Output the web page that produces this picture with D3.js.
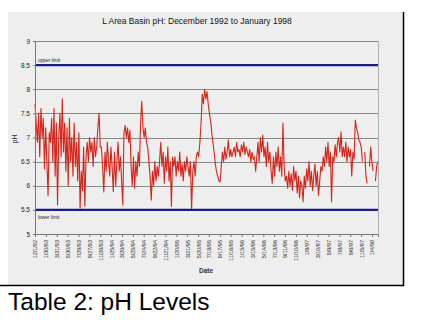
<!DOCTYPE html>
<html>
<head>
<meta charset="utf-8">
<script src="https://cdn.jsdelivr.net/npm/d3@7"></script>
<style>
  html, body { margin: 0; padding: 0; background: #ffffff; }
  svg { display: block; font-family: "Liberation Sans", Arial, sans-serif; }
</style>
</head>
<body>
<svg id="chart" width="421" height="321"></svg>
<script>
// ---- data ----
const chartTitle = "L Area Basin pH: December 1992 to January 1998";
const caption = "Table 2: pH Levels";
const firstSample = "12/1/92";
const lastSample = "2/5/98";
const phValues = [
  7.7,7.3,6.9,7.5,6.6,7.6,7.0,7.4,6.35,7.2,6.5,5.8,7.1,
  6.9,7.4,6.5,7.6,6.2,7.3,5.6,7.0,7.5,6.6,
  7.8,6.7,7.3,6.3,7.2,6.0,7.4,6.5,7.0,6.2,7.3,6.4,6.9,6.1,7.1,5.54,
  6.3,5.9,6.8,5.58,6.6,6.9,6.5,7.0,6.7,6.9,6.4,7.0,6.6,6.8,7.2,7.5,6.8,
  6.8,6.4,5.87,6.7,6.3,6.9,6.5,6.2,6.8,6.4,5.88,6.7,6.0,6.5,6.9,6.3,6.6,6.1,5.6,
  7.1,7.25,7.0,7.2,6.9,7.15,
  6.4,6.0,6.6,5.95,6.5,6.2,6.7,6.4,
  7.3,7.75,7.2,7.0,7.2,6.9,6.8,6.5,
  6.2,5.7,6.3,6.0,6.5,6.1,6.4,6.2,
  6.5,6.9,6.4,6.7,6.05,6.6,6.3,6.8,6.1,6.5,5.57,6.6,
  6.4,6.6,6.2,6.5,6.3,6.7,6.2,6.45,6.1,6.5,6.3,6.6,
  6.4,6.2,6.5,5.5,6.3,6.5,6.2,6.6,
  6.7,6.6,6.9,7.3,
  7.9,7.7,8.0,7.8,7.95,7.7,
  7.5,7.35,7.1,6.9,6.7,6.45,6.3,6.2,6.1,6.08,
  6.4,6.7,6.5,6.8,6.55,6.7,6.95,6.6,6.75,6.6,
  6.7,6.8,6.6,6.9,6.7,6.75,6.6,6.85,6.7,6.9,6.65,6.8,6.7,6.6,6.75,6.5,6.7,6.55,6.6,6.3,
  6.6,6.9,6.5,7.0,6.7,7.05,6.6,6.8,6.4,6.9,6.5,6.7,
  6.3,6.05,6.6,6.2,6.7,6.4,6.8,6.3,6.6,6.2,7.3,6.4,6.1,
  6.2,5.95,6.3,6.0,6.25,5.9,6.4,6.1,6.3,5.85,6.2,5.75,6.1,
  6.0,5.67,6.2,5.95,6.35,6.1,6.5,6.0,6.3,5.9,6.2,6.45,6.0,6.3,5.8,6.1,6.4,
  6.3,6.6,6.4,6.8,6.5,6.9,6.4,6.7,5.67,6.6,6.5,6.85,6.6,6.9,7.0,6.7,7.12,6.6,6.8,
  6.6,6.9,6.5,6.8,6.6,6.75,6.2,6.7,6.55,7.36,7.2,7.1,6.95,
  6.9,6.8,6.5,null,6.7,6.2,6.05,null,6.4,6.8,6.5,6.3,null,6.1,6.4,6.5
];
const xTickLabels = ["12/1/92","1/30/93","3/31/93","5/30/93","7/29/93","9/27/93","11/26/93",
  "1/25/94","3/26/94","5/25/94","7/24/94","9/22/94","11/21/94","1/20/95","3/21/95","5/20/95",
  "7/19/95","9/17/95","11/16/95","1/15/96","3/15/96","5/14/96","7/13/96","9/11/96","11/10/96",
  "1/9/97","3/10/97","5/9/97","7/8/97","9/6/97","11/5/97","1/4/98"];
const yTickValues = [5, 5.5, 6, 6.5, 7, 7.5, 8, 8.5, 9];
const gridValues = [6, 6.5, 7, 7.5, 8, 9];
const limits = [{ label: "upper limit", value: 8.5 }, { label: "lower limit", value: 5.5 }];
const xDomainLabels = ["12/1/92", "2/6/98"];

// ---- setup ----
const parse = d3.timeParse("%m/%d/%y");
const svg = d3.select("#chart");
const plot = { left: 35, right: 378, top: 41, bottom: 234 };

// paper
svg.append("rect").attr("x", 8).attr("y", 12).attr("width", 396).attr("height", 273).attr("fill", "#eeeeee");
svg.append("line").attr("x1", 403.5).attr("x2", 403.5).attr("y1", 12).attr("y2", 285.5)
  .attr("stroke", "#000").attr("stroke-width", 1.5);
svg.append("line").attr("x1", 0).attr("x2", 404.2).attr("y1", 285.5).attr("y2", 285.5)
  .attr("stroke", "#000").attr("stroke-width", 1.5);

const x = d3.scaleTime().domain(xDomainLabels.map(parse)).range([plot.left, plot.right]);
const y = d3.scaleLinear().domain([5, 9]).range([plot.bottom, plot.top]);

// grid
svg.append("g").selectAll("line").data(gridValues).join("line")
  .attr("x1", plot.left).attr("x2", plot.right)
  .attr("y1", d => Math.round(y(d)) + 0.5).attr("y2", d => Math.round(y(d)) + 0.5)
  .attr("stroke", "#8a8a8a").attr("stroke-width", 1);
svg.append("line").attr("x1", plot.right + 0.5).attr("x2", plot.right + 0.5)
  .attr("y1", plot.top).attr("y2", plot.bottom).attr("stroke", "#b0b0b0");

// title
svg.append("text").attr("x", 197).attr("y", 24).attr("text-anchor", "middle")
  .attr("font-size", 8.5).attr("fill", "#111").text(chartTitle);

// data line
const t0 = parse(firstSample).getTime(), t1 = parse(lastSample).getTime();
const series = phValues.map((v, i) => ({ date: new Date(t0 + (t1 - t0) * i / (phValues.length - 1)), v }));
const line = d3.line().defined(d => d.v !== null).x(d => x(d.date)).y(d => y(d.v));
svg.append("path").datum(series).attr("d", line)
  .attr("fill", "none").attr("stroke", "#d4261a").attr("stroke-width", 1.1).attr("stroke-linejoin", "round");

// limit lines
limits.forEach(l => {
  svg.append("line").attr("x1", plot.left).attr("x2", plot.right)
    .attr("y1", y(l.value)).attr("y2", y(l.value))
    .attr("stroke", "#1a1a8a").attr("stroke-width", 2.2);
});
svg.append("text").attr("x", 38).attr("y", y(limits[0].value) - 3.5).attr("font-size", 4.8)
  .attr("fill", "#222").text(limits[0].label);
svg.append("text").attr("x", 38).attr("y", y(limits[1].value) + 9).attr("font-size", 4.8)
  .attr("fill", "#222").text(limits[1].label);

// y axis
const yAxis = svg.append("g").attr("transform", `translate(${plot.left},0)`)
  .call(d3.axisLeft(y).tickValues(yTickValues).tickSize(2).tickPadding(3).tickFormat(d => String(d)));
yAxis.select(".domain").attr("stroke", "#777");
yAxis.selectAll(".tick line").attr("stroke", "#777");
yAxis.selectAll("text").attr("font-size", 6.5).attr("fill", "#222").attr("font-family", "Liberation Sans, Arial, sans-serif");

// x axis
const xAxis = svg.append("g").attr("transform", `translate(0,${plot.bottom})`)
  .call(d3.axisBottom(x).tickValues(xTickLabels.map(parse)).tickSize(3).tickFormat((d, i) => xTickLabels[i]));
xAxis.select(".domain").attr("stroke", "#777");
xAxis.selectAll(".tick line").attr("stroke", "#777");
xAxis.selectAll("text")
  .attr("transform", "rotate(-90)").attr("x", -6).attr("y", 0).attr("dy", "0.35em")
  .attr("text-anchor", "end").attr("font-size", 5.5).attr("fill", "#333")
  .attr("font-family", "Liberation Sans, Arial, sans-serif");

// axis titles
svg.append("text").attr("transform", "translate(17,139) rotate(-90)").attr("text-anchor", "middle")
  .attr("font-size", 6.5).attr("fill", "#222").text("pH");
svg.append("text").attr("x", 206).attr("y", 273).attr("text-anchor", "middle")
  .attr("font-size", 6.5).attr("font-weight", "bold").attr("fill", "#333").text("Date");

// caption
svg.append("text").attr("x", 8).attr("y", 310).attr("font-size", 24.5).attr("fill", "#000").text(caption);
</script>
</body>
</html>
